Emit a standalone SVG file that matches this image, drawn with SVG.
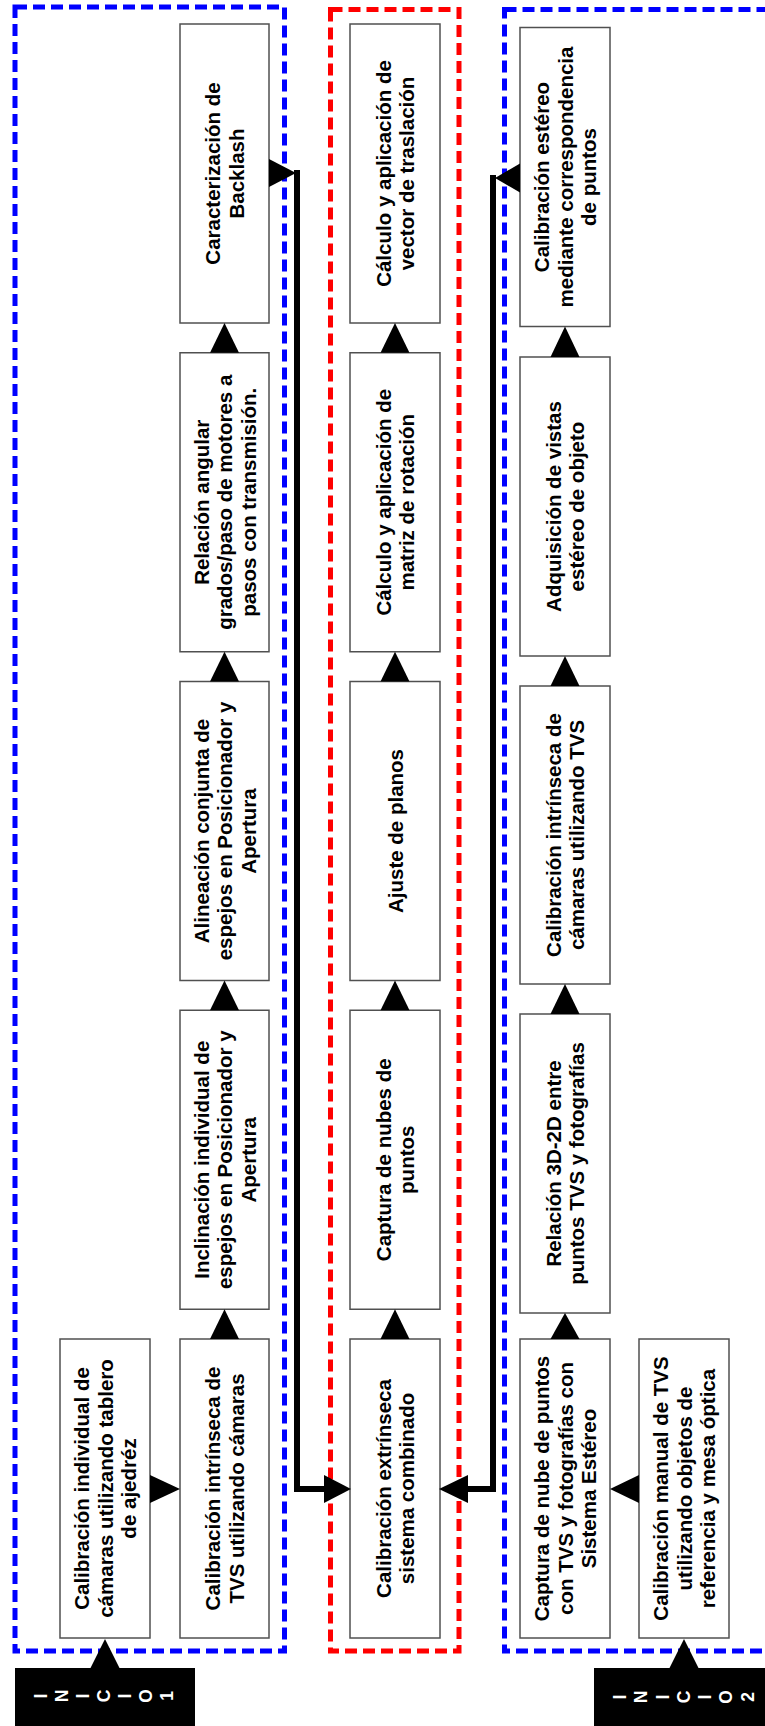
<svg xmlns="http://www.w3.org/2000/svg" width="765" height="1726" viewBox="0 0 765 1726">
  <style>
    .box { fill: #ffffff; stroke: #505050; stroke-width: 1.5; }
    .t { font-family: "Liberation Sans", Arial, Helvetica, sans-serif; font-weight: bold; font-size: 20.5px; text-anchor: middle; fill: #000000; }
    .frame { fill: none; stroke-width: 5; stroke-dasharray: 12 6; }
    .blue { stroke: #0000ff; }
    .red { stroke: #ff0000; }
    .tri { fill: #000000; }
    .wire { fill: none; stroke: #000000; stroke-width: 6; stroke-linejoin: miter; }
    .start { fill: #000000; }
    .letter { font-family: "Liberation Sans", Arial, Helvetica, sans-serif; font-weight: bold; font-size: 17.5px; text-anchor: middle; fill: #ffffff; }
  </style>
  <rect width="765" height="1726" fill="#ffffff"/>

  <!-- stage frames -->
  <g id="frames">
    <rect class="frame blue" x="15" y="7" width="269.5" height="1644"/>
    <rect class="frame red" x="330.5" y="9.5" width="128.5" height="1641.5"/>
    <rect class="frame blue" x="504.5" y="9.5" width="280" height="1641.5"/>
  </g>

  <!-- column 1 -->
  <g id="n-cal-individual">
    <rect class="box" x="60" y="1339" width="90" height="299"/>
    <text class="t" transform="translate(105,1488.5) rotate(-90)"><tspan x="0" y="-16">Calibración individual de</tspan><tspan x="0" y="7.5">cámaras utilizando tablero</tspan><tspan x="0" y="31">de ajedréz</tspan></text>
  </g>

  <!-- column 2 -->
  <g id="n-backlash">
    <rect class="box" x="180" y="24" width="89" height="299"/>
    <text class="t" transform="translate(224.5,173.5) rotate(-90)"><tspan x="0" y="-4.25">Caracterización de</tspan><tspan x="0" y="19.25">Backlash</tspan></text>
  </g>
  <g id="n-relacion-angular">
    <rect class="box" x="180" y="352.75" width="89" height="299"/>
    <text class="t" transform="translate(224.5,502.25) rotate(-90)"><tspan x="0" y="-16">Relación angular</tspan><tspan x="0" y="7.5">grados/paso de motores a</tspan><tspan x="0" y="31">pasos con transmisión.</tspan></text>
  </g>
  <g id="n-alineacion">
    <rect class="box" x="180" y="681.5" width="89" height="299"/>
    <text class="t" transform="translate(224.5,831) rotate(-90)"><tspan x="0" y="-16">Alineación conjunta de</tspan><tspan x="0" y="7.5">espejos en Posicionador y</tspan><tspan x="0" y="31">Apertura</tspan></text>
  </g>
  <g id="n-inclinacion">
    <rect class="box" x="180" y="1010.25" width="89" height="299"/>
    <text class="t" transform="translate(224.5,1159.75) rotate(-90)"><tspan x="0" y="-16">Inclinación individual de</tspan><tspan x="0" y="7.5">espejos en Posicionador y</tspan><tspan x="0" y="31">Apertura</tspan></text>
  </g>
  <g id="n-intrinseca-tvs">
    <rect class="box" x="180" y="1339" width="89" height="299"/>
    <text class="t" transform="translate(224.5,1488.5) rotate(-90)"><tspan x="0" y="-4.25">Calibración intrínseca de</tspan><tspan x="0" y="19.25">TVS utilizando cámaras</tspan></text>
  </g>

  <!-- column 3 -->
  <g id="n-traslacion">
    <rect class="box" x="350" y="24" width="90" height="299"/>
    <text class="t" transform="translate(395,173.5) rotate(-90)"><tspan x="0" y="-4.25">Cálculo y aplicación de</tspan><tspan x="0" y="19.25">vector de traslación</tspan></text>
  </g>
  <g id="n-rotacion">
    <rect class="box" x="350" y="352.75" width="90" height="299"/>
    <text class="t" transform="translate(395,502.25) rotate(-90)"><tspan x="0" y="-4.25">Cálculo y aplicación de</tspan><tspan x="0" y="19.25">matriz de rotación</tspan></text>
  </g>
  <g id="n-planos">
    <rect class="box" x="350" y="681.5" width="90" height="299"/>
    <text class="t" transform="translate(395,831) rotate(-90)"><tspan x="0" y="7.5">Ajuste de planos</tspan></text>
  </g>
  <g id="n-nubes">
    <rect class="box" x="350" y="1010.25" width="90" height="299"/>
    <text class="t" transform="translate(395,1159.75) rotate(-90)"><tspan x="0" y="-4.25">Captura de nubes de</tspan><tspan x="0" y="19.25">puntos</tspan></text>
  </g>
  <g id="n-extrinseca">
    <rect class="box" x="350" y="1339" width="90" height="299"/>
    <text class="t" transform="translate(395,1488.5) rotate(-90)"><tspan x="0" y="-4.25">Calibración extrínseca</tspan><tspan x="0" y="19.25">sistema combinado</tspan></text>
  </g>

  <!-- column 4 -->
  <g id="n-estereo">
    <rect class="box" x="520" y="27.5" width="90" height="299"/>
    <text class="t" transform="translate(565,177) rotate(-90)"><tspan x="0" y="-16">Calibración estéreo</tspan><tspan x="0" y="7.5">mediante correspondencia</tspan><tspan x="0" y="31">de puntos</tspan></text>
  </g>
  <g id="n-vistas">
    <rect class="box" x="520" y="357" width="90" height="299"/>
    <text class="t" transform="translate(565,506.5) rotate(-90)"><tspan x="0" y="-4.25">Adquisición de vistas</tspan><tspan x="0" y="19.25">estéreo de objeto</tspan></text>
  </g>
  <g id="n-intrinseca-cam">
    <rect class="box" x="520" y="686" width="90" height="298"/>
    <text class="t" transform="translate(565,835) rotate(-90)"><tspan x="0" y="-4.25">Calibración intrínseca de</tspan><tspan x="0" y="19.25">cámaras utilizando TVS</tspan></text>
  </g>
  <g id="n-relacion-3d2d">
    <rect class="box" x="520" y="1014" width="90" height="299"/>
    <text class="t" transform="translate(565,1163.5) rotate(-90)"><tspan x="0" y="-4.25">Relación 3D-2D entre</tspan><tspan x="0" y="19.25">puntos TVS y fotografías</tspan></text>
  </g>
  <g id="n-captura-nube">
    <rect class="box" x="520" y="1339" width="90" height="299"/>
    <text class="t" transform="translate(565,1488.5) rotate(-90)"><tspan x="0" y="-16">Captura de nube de puntos</tspan><tspan x="0" y="7.5">con TVS y fotografías con</tspan><tspan x="0" y="31">Sistema Estéreo</tspan></text>
  </g>

  <!-- column 5 -->
  <g id="n-cal-manual">
    <rect class="box" x="639" y="1339" width="90" height="299"/>
    <text class="t" transform="translate(684,1488.5) rotate(-90)"><tspan x="0" y="-16">Calibración manual de TVS</tspan><tspan x="0" y="7.5">utilizando objetos de</tspan><tspan x="0" y="31">referencia y mesa óptica</tspan></text>
  </g>

  <!-- start blocks -->
  <g id="n-inicio1">
    <rect class="start" x="15" y="1668" width="180" height="62"/>
    <text class="letter" transform="translate(41,1696) rotate(-90)" dy="0.35em">I</text>
    <text class="letter" transform="translate(62,1696) rotate(-90)" dy="0.35em">N</text>
    <text class="letter" transform="translate(83,1696) rotate(-90)" dy="0.35em">I</text>
    <text class="letter" transform="translate(104,1696) rotate(-90)" dy="0.35em">C</text>
    <text class="letter" transform="translate(125,1696) rotate(-90)" dy="0.35em">I</text>
    <text class="letter" transform="translate(146,1696) rotate(-90)" dy="0.35em">O</text>
    <text class="letter" transform="translate(167,1696) rotate(-90)" dy="0.35em">1</text>
  </g>
  <g id="n-inicio2">
    <rect class="start" x="594" y="1668" width="180" height="62"/>
    <text class="letter" transform="translate(620,1697) rotate(-90)" dy="0.35em">I</text>
    <text class="letter" transform="translate(641,1697) rotate(-90)" dy="0.35em">N</text>
    <text class="letter" transform="translate(663,1697) rotate(-90)" dy="0.35em">I</text>
    <text class="letter" transform="translate(684,1697) rotate(-90)" dy="0.35em">C</text>
    <text class="letter" transform="translate(705,1697) rotate(-90)" dy="0.35em">I</text>
    <text class="letter" transform="translate(726,1697) rotate(-90)" dy="0.35em">O</text>
    <text class="letter" transform="translate(748,1697) rotate(-90)" dy="0.35em">2</text>
  </g>

  <!-- connectors -->
  <g id="connectors">
    <!-- start blocks into first steps -->
    <polygon class="tri" points="105,1639 90.5,1668 119.5,1668"/>
    <polygon class="tri" points="684,1639 669.5,1668 698.5,1668"/>
    <!-- column 1 to column 2 -->
    <polygon class="tri" points="180,1489 150,1475 150,1503"/>
    <!-- column 2 upward chain -->
    <polygon class="tri" points="224.5,1309.25 210,1339 239,1339"/>
    <polygon class="tri" points="224.5,980.5 210,1010.25 239,1010.25"/>
    <polygon class="tri" points="224.5,651.75 210,681.5 239,681.5"/>
    <polygon class="tri" points="224.5,323 210,352.75 239,352.75"/>
    <!-- column 3 upward chain -->
    <polygon class="tri" points="395,1309.25 380.5,1339 409.5,1339"/>
    <polygon class="tri" points="395,980.5 380.5,1010.25 409.5,1010.25"/>
    <polygon class="tri" points="395,651.75 380.5,681.5 409.5,681.5"/>
    <polygon class="tri" points="395,323 380.5,352.75 409.5,352.75"/>
    <!-- column 5 to column 4 -->
    <polygon class="tri" points="610,1489 639,1475 639,1503"/>
    <!-- column 4 upward chain -->
    <polygon class="tri" points="565,1313 550.5,1339 579.5,1339"/>
    <polygon class="tri" points="565,984 550.5,1014 579.5,1014"/>
    <polygon class="tri" points="565,656 550.5,686 579.5,686"/>
    <polygon class="tri" points="565,326.5 550.5,357 579.5,357"/>
    <!-- backlash to extrinsic calibration -->
    <polygon class="tri" points="269,159 269,187 296,173"/>
    <path class="wire" d="M297,170 V1489 H326"/>
    <polygon class="tri" points="324,1475 324,1503 351,1489"/>
    <!-- stereo calibration to extrinsic calibration -->
    <polygon class="tri" points="520,163.5 520,192.5 495,178"/>
    <path class="wire" d="M493,175 V1489 H466"/>
    <polygon class="tri" points="468,1475 468,1503 439,1489"/>
  </g>
</svg>
